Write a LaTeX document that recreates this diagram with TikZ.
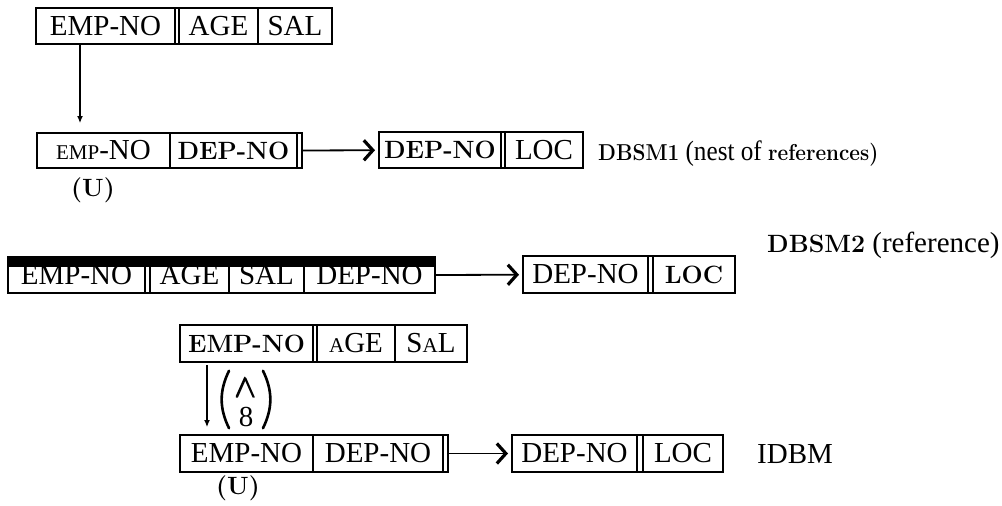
\documentclass[tikz,border=0pt]{standalone}
\usepackage{amsmath}
\usepackage{fontspec}
\newfontfamily\timesfam{Liberation Serif}
\usetikzlibrary{arrows.meta,positioning}
\newcommand\rmtxt{\timesfam\fontsize{29}{32}\selectfont}
\newcommand\bftxt{\rmfamily\bfseries\fontsize{25}{28}\selectfont}
\newcommand\smc[1]{{\fontsize{21}{24}\selectfont #1}}

\begin{document}
\begin{tikzpicture}[x=1pt,y=-1pt,
    cell/.style={draw, line width=1.5pt, inner sep=0pt, outer sep=0pt, minimum height=36pt, font=\rmtxt},
    bcell/.style={cell, font=\bftxt},
    frame/.style={line width=2.2pt},
    link/.style={line width=1.8pt, -{Straight Barb[length=9pt,width=20pt,line width=3.2pt]}, shorten >=4pt},
    down/.style={line width=1.2pt, -{Latex[length=7pt,width=6pt]}},
    paren/.style={line width=2.6pt, line cap=round},
    lbl/.style={anchor=base west, inner sep=0pt, font=\rmtxt}]
    \useasboundingbox (0,0) rectangle (1002,506);

    % DBSM1
    \node[cell, minimum width=139pt, anchor=north west] (aemp) at (36,8) {EMP-NO};
    \node[cell, minimum width=79pt, right=4pt of aemp] (aage) {AGE};
    \node[cell, minimum width=74pt, right=0pt of aage] (asal) {SAL};
    \draw[frame] (aemp.north west) rectangle (asal.south east);

    \node[cell, minimum width=133pt, minimum height=35pt, anchor=north west] (bemp) at (37,133) {\smc{EMP}-NO};
    \node[bcell, minimum width=127pt, minimum height=35pt, right=0pt of bemp] (bdep) {DEP-NO};
    \draw[frame] (bemp.north west) rectangle ([xshift=5pt]bdep.south east);
    \node[font=\bftxt] (bu) at (93,190) {(U)};

    \node[bcell, minimum width=122pt, anchor=north west] (cdep) at (379,132) {DEP-NO};
    \node[cell, minimum width=78pt, right=4pt of cdep] (cloc) {LOC};
    \draw[frame] (cdep.north west) rectangle (cloc.south east);

    \draw[down, shorten >=10pt] ([xshift=44pt]aemp.south west) -- ([xshift=43pt]bemp.north west);
    \draw[link] ([xshift=5pt]bdep.east) -- (cdep);
    \node[lbl, font=\timesfam\fontsize{28}{30}\selectfont] (dbsm1) at (598,160)
        {\scalebox{0.9}[1]{{\rmfamily\bfseries\fontsize{23}{26}\selectfont DBSM1} (nest of {\rmfamily\bfseries\fontsize{23}{26}\selectfont references)}}};

    % DBSM2
    \node[cell, minimum width=137pt, anchor=north west] (eemp) at (8,257) {EMP-NO};
    \node[cell, minimum width=79pt, right=5pt of eemp] (eage) {AGE};
    \node[cell, minimum width=75pt, right=0pt of eage] (esal) {SAL};
    \node[cell, minimum width=131pt, right=0pt of esal] (edep) {DEP-NO};
    \draw[frame] (eemp.north west) rectangle (edep.south east);
    \fill (eemp.north west) rectangle ([yshift=-10pt]edep.north east);

    \node[cell, minimum width=125pt, minimum height=37pt, anchor=north west] (fdep) at (523,256) {DEP-NO};
    \node[bcell, minimum width=82pt, minimum height=37pt, right=5pt of fdep] (floc) {LOC};
    \draw[frame] (fdep.north west) rectangle (floc.south east);

    \draw[link] (edep.east) -- (fdep);
    \node[lbl] (dbsm2) at (767,252) {{\bftxt DBSM2} (reference)};

    % IDBM
    \node[bcell, minimum width=133pt, minimum height=37pt, anchor=north west] (gemp) at (180,325) {EMP-NO};
    \node[cell, minimum width=78pt, minimum height=37pt, right=4pt of gemp] (gage) {\smc{A}GE};
    \node[cell, minimum width=72pt, minimum height=37pt, right=0pt of gage] (gsal) {S\smc{A}L};
    \draw[frame] (gemp.north west) rectangle (gsal.south east);

    \node[align=center, inner sep=0pt, font=\rmtxt] (pv) at (246,403)
        {\scalebox{1.3}{\pmb{$\wedge$}}\\[-3pt]8};
    \draw[paren] ([xshift=-6pt,yshift=8pt]pv.north west) to[bend right=26] ([xshift=-6pt,yshift=-1pt]pv.south west);
    \draw[paren] ([xshift=6pt,yshift=8pt]pv.north east) to[bend left=26] ([xshift=6pt,yshift=-1pt]pv.south east);

    \node[cell, minimum width=133pt, minimum height=37pt, anchor=north west] (hemp) at (180,435) {EMP-NO};
    \node[cell, minimum width=130pt, minimum height=37pt, right=0pt of hemp] (hdep) {DEP-NO};
    \draw[frame] (hemp.north west) rectangle ([xshift=5pt]hdep.south east);
    \node[font=\bftxt] (hu) at (238,488) {(U)};

    \node[cell, minimum width=125pt, minimum height=37pt, anchor=north west] (kdep) at (512,435) {DEP-NO};
    \node[cell, minimum width=80pt, minimum height=37pt, right=6pt of kdep] (kloc) {LOC};
    \draw[frame] (kdep.north west) rectangle (kloc.south east);

    \draw[down, shorten <=3pt, shorten >=8pt] ([xshift=27pt]gemp.south west) -- ([xshift=27pt]hemp.north west);
    \draw[link] ([xshift=5pt]hdep.east) -- (kdep);
    \node[lbl] (idbm) at (757,463) {IDBM};
\end{tikzpicture}
\end{document}
